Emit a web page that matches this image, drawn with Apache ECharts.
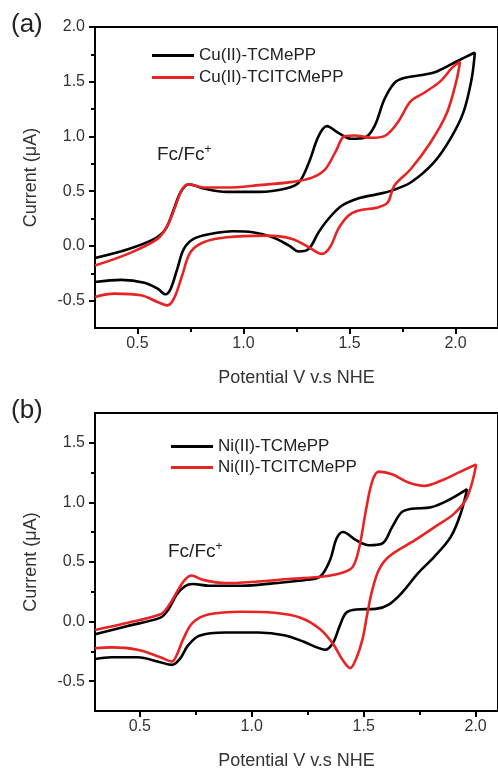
<!DOCTYPE html>
<html><head><meta charset="utf-8">
<script src="https://cdn.jsdelivr.net/npm/echarts@6/dist/echarts.min.js"></script>
<style>html,body{margin:0;padding:0;background:#fff}#c{width:498px;height:771px}</style>
</head><body><div id="c"></div>
<script>
// ---------- data (potential V, current uA) ----------
const cuTCMePP_fwd = [[0.30,-0.11],[0.455,-0.03],[0.58,0.065],[0.633,0.155],[0.672,0.337],[0.703,0.488],[0.742,0.564],[0.812,0.525],[0.92,0.494],[1.075,0.494],[1.20,0.525],[1.261,0.579],[1.308,0.76],[1.354,1.003],[1.393,1.094],[1.447,1.033],[1.509,0.979],[1.571,0.988],[1.618,1.094],[1.664,1.337],[1.711,1.488],[1.757,1.534],[1.85,1.564],[1.912,1.594],[2.005,1.685],[2.091,1.767]];
const cuTCMePP_rev = [[2.091,1.767],[2.075,1.518],[2.036,1.215],[1.974,0.973],[1.897,0.761],[1.788,0.579],[1.695,0.503],[1.633,0.473],[1.54,0.434],[1.463,0.367],[1.40,0.246],[1.354,0.124],[1.308,-0.027],[1.261,-0.051],[1.215,0.003],[1.137,0.079],[1.044,0.124],[0.951,0.134],[0.843,0.109],[0.765,0.064],[0.719,-0.027],[0.688,-0.209],[0.657,-0.391],[0.633,-0.442],[0.595,-0.391],[0.533,-0.336],[0.424,-0.31],[0.30,-0.33]];
const cuTCITCMePP_fwd = [[0.30,-0.179],[0.455,-0.073],[0.595,0.064],[0.641,0.185],[0.68,0.367],[0.711,0.518],[0.742,0.564],[0.812,0.534],[0.92,0.534],[1.075,0.555],[1.23,0.585],[1.323,0.624],[1.385,0.70],[1.432,0.852],[1.478,1.003],[1.525,1.009],[1.602,0.988],[1.664,1.003],[1.726,1.125],[1.788,1.321],[1.85,1.397],[1.928,1.503],[1.982,1.624],[2.021,1.685]];
const cuTCITCMePP_rev = [[2.021,1.685],[2.005,1.518],[1.959,1.215],[1.881,0.943],[1.788,0.70],[1.711,0.549],[1.68,0.397],[1.633,0.352],[1.54,0.321],[1.494,0.276],[1.447,0.155],[1.408,-0.012],[1.37,-0.073],[1.308,-0.012],[1.23,0.064],[1.106,0.094],[0.92,0.079],[0.812,0.034],[0.75,-0.058],[0.711,-0.27],[0.672,-0.482],[0.641,-0.543],[0.595,-0.512],[0.517,-0.451],[0.393,-0.436],[0.30,-0.466]];

const niTCMePP_fwd = [[0.30,-0.106],[0.446,-0.036],[0.592,0.033],[0.628,0.102],[0.664,0.226],[0.701,0.296],[0.737,0.315],[0.81,0.301],[0.956,0.301],[1.102,0.323],[1.248,0.351],[1.306,0.378],[1.35,0.517],[1.379,0.697],[1.408,0.752],[1.466,0.683],[1.524,0.641],[1.583,0.655],[1.627,0.793],[1.67,0.918],[1.714,0.946],[1.801,0.959],[1.874,1.015],[1.962,1.112]];
const niTCMePP_rev = [[1.962,1.112],[1.933,0.904],[1.889,0.711],[1.816,0.545],[1.743,0.406],[1.67,0.24],[1.612,0.143],[1.554,0.107],[1.466,0.102],[1.422,0.074],[1.393,-0.036],[1.364,-0.175],[1.328,-0.236],[1.291,-0.216],[1.233,-0.169],[1.145,-0.114],[1.029,-0.092],[0.883,-0.092],[0.766,-0.119],[0.715,-0.202],[0.679,-0.313],[0.643,-0.363],[0.592,-0.341],[0.49,-0.299],[0.373,-0.299],[0.30,-0.313]];
const niTCITCMePP_fwd = [[0.30,-0.07],[0.446,-0.009],[0.592,0.061],[0.628,0.13],[0.672,0.268],[0.701,0.351],[0.73,0.387],[0.781,0.351],[0.883,0.323],[1.029,0.337],[1.175,0.359],[1.32,0.378],[1.408,0.412],[1.452,0.461],[1.481,0.628],[1.51,0.932],[1.539,1.181],[1.568,1.258],[1.627,1.236],[1.70,1.167],[1.772,1.139],[1.845,1.181],[1.933,1.258],[2.003,1.319]];
const niTCITCMePP_rev = [[2.003,1.319],[1.962,1.042],[1.903,0.904],[1.816,0.793],[1.729,0.683],[1.612,0.545],[1.568,0.434],[1.539,0.268],[1.517,0.074],[1.495,-0.147],[1.466,-0.313],[1.44,-0.39],[1.408,-0.327],[1.364,-0.189],[1.306,-0.064],[1.218,0.033],[1.102,0.074],[0.956,0.083],[0.81,0.061],[0.737,-0.009],[0.694,-0.147],[0.664,-0.285],[0.643,-0.335],[0.592,-0.299],[0.49,-0.236],[0.373,-0.216],[0.30,-0.224]];

const namesA = ['Cu(II)-TCMePP', 'Cu(II)-TCITCMePP'];
const namesB = ['Ni(II)-TCMePP', 'Ni(II)-TCITCMePP'];

// ---------- ticks ----------
const xTicks = [0.5, 1.0, 1.5, 2.0];
const xMinor = [0.75, 1.25, 1.75];
const yTicksA = [-0.5, 0.0, 0.5, 1.0, 1.5, 2.0];
const yMinorA = [-0.25, 0.25, 0.75, 1.25, 1.75];
const yTicksB = [-0.5, 0.0, 0.5, 1.0, 1.5];
const yMinorB = [-0.25, 0.25, 0.75, 1.25];

const FONT = "'Liberation Sans', Arial, sans-serif";
const BLACK = '#000000';
const RED = '#e82323';

function mainX(gi, min, max) {
  return {
    gridIndex: gi, type: 'value', min: min, max: max, position: 'bottom',
    axisLine: { onZero: false, lineStyle: { color: '#000', width: 2 } },
    axisTick: { customValues: xTicks, length: 6, lineStyle: { color: '#000', width: 2 } },
    axisLabel: { customValues: xTicks, formatter: v => v.toFixed(1), fontSize: 16, color: '#333', margin: 8, fontFamily: FONT },
    splitLine: { show: false },
    name: 'Potential V v.s NHE', nameLocation: 'middle', nameGap: 41,
    nameTextStyle: { fontSize: 18, color: '#333', fontFamily: FONT }
  };
}
function minorX(gi, min, max) {
  return {
    gridIndex: gi, type: 'value', min: min, max: max, position: 'bottom',
    axisLine: { show: false, onZero: false },
    axisTick: { customValues: xMinor, length: 4, lineStyle: { color: '#000', width: 2 } },
    axisLabel: { show: false }, splitLine: { show: false }
  };
}
function mainY(gi, min, max, ticks) {
  return {
    gridIndex: gi, type: 'value', min: min, max: max, position: 'left',
    axisLine: { onZero: false, lineStyle: { color: '#000', width: 2 } },
    axisTick: { customValues: ticks, length: 6, lineStyle: { color: '#000', width: 2 } },
    axisLabel: { customValues: ticks, formatter: v => v.toFixed(1), fontSize: 16, color: '#333', margin: 10, fontFamily: FONT },
    splitLine: { show: false },
    name: 'Current (\u03bcA)', nameLocation: 'middle', nameGap: 55, nameRotate: 90,
    nameTextStyle: { fontSize: 18, color: '#333', fontFamily: FONT }
  };
}
function minorY(gi, min, max, ticks) {
  return {
    gridIndex: gi, type: 'value', min: min, max: max, position: 'left',
    axisLine: { show: false, onZero: false },
    axisTick: { customValues: ticks, length: 4, lineStyle: { color: '#000', width: 2 } },
    axisLabel: { show: false }, splitLine: { show: false }
  };
}
function line(name, data, color, xi, yi) {
  return {
    type: 'line', name: name, data: data, xAxisIndex: xi, yAxisIndex: yi,
    showSymbol: false, symbol: 'none', smooth: 0.35,
    lineStyle: { color: color, width: 2.6 }, itemStyle: { color: color },
    silent: true, animation: false
  };
}

const chart = echarts.init(document.getElementById('c'), null, { renderer: 'canvas' });
chart.setOption({
  animation: false,
  backgroundColor: '#fff',
  textStyle: { fontFamily: FONT },
  grid: [
    { left: 95, top: 27, width: 408.5, height: 301, show: true, borderColor: '#000', borderWidth: 2, containLabel: false },
    { left: 95, top: 413, width: 411.7, height: 301, show: true, borderColor: '#000', borderWidth: 2, containLabel: false }
  ],
  xAxis: [mainX(0, 0.3, 2.2), minorX(0, 0.3, 2.2), mainX(1, 0.3, 2.1), minorX(1, 0.3, 2.1)],
  yAxis: [mainY(0, -0.75, 2.0, yTicksA), minorY(0, -0.75, 2.0, yMinorA), mainY(1, -0.75, 1.75, yTicksB), minorY(1, -0.75, 1.75, yMinorB)],
  legend: [
    { data: namesA, orient: 'vertical', left: 152, top: 47, icon: 'rect', itemWidth: 42, itemHeight: 3, itemGap: 5, padding: 0, selectedMode: false,
      textStyle: { fontSize: 17, color: '#222', fontFamily: FONT } },
    { data: namesB, orient: 'vertical', left: 171, top: 438, icon: 'rect', itemWidth: 42, itemHeight: 3, itemGap: 4, padding: 0, selectedMode: false,
      textStyle: { fontSize: 17, color: '#222', fontFamily: FONT } }
  ],
  graphic: [
    { type: 'text', left: 11, top: 12, style: { text: '(a)', fontSize: 26, fill: '#222', fontFamily: FONT } },
    { type: 'text', left: 11, top: 398, style: { text: '(b)', fontSize: 26, fill: '#222', fontFamily: FONT } },
    { type: 'text', left: 157, top: 144, style: { text: 'Fc/Fc{s|+}', fontSize: 19, fill: '#222', fontFamily: FONT, rich: { s: { fontSize: 12, fill: '#222', padding: [0, 0, 9, 0], fontFamily: FONT } } } },
    { type: 'text', left: 168, top: 541, style: { text: 'Fc/Fc{s|+}', fontSize: 19, fill: '#222', fontFamily: FONT, rich: { s: { fontSize: 12, fill: '#222', padding: [0, 0, 9, 0], fontFamily: FONT } } } }
  ],
  series: [
    line(namesA[0], cuTCMePP_fwd, BLACK, 0, 0),
    line(namesA[0], cuTCMePP_rev, BLACK, 0, 0),
    line(namesA[1], cuTCITCMePP_fwd, RED, 0, 0),
    line(namesA[1], cuTCITCMePP_rev, RED, 0, 0),
    line(namesB[0], niTCMePP_fwd, BLACK, 2, 2),
    line(namesB[0], niTCMePP_rev, BLACK, 2, 2),
    line(namesB[1], niTCITCMePP_fwd, RED, 2, 2),
    line(namesB[1], niTCITCMePP_rev, RED, 2, 2)
  ]
});
</script>
</body></html>
